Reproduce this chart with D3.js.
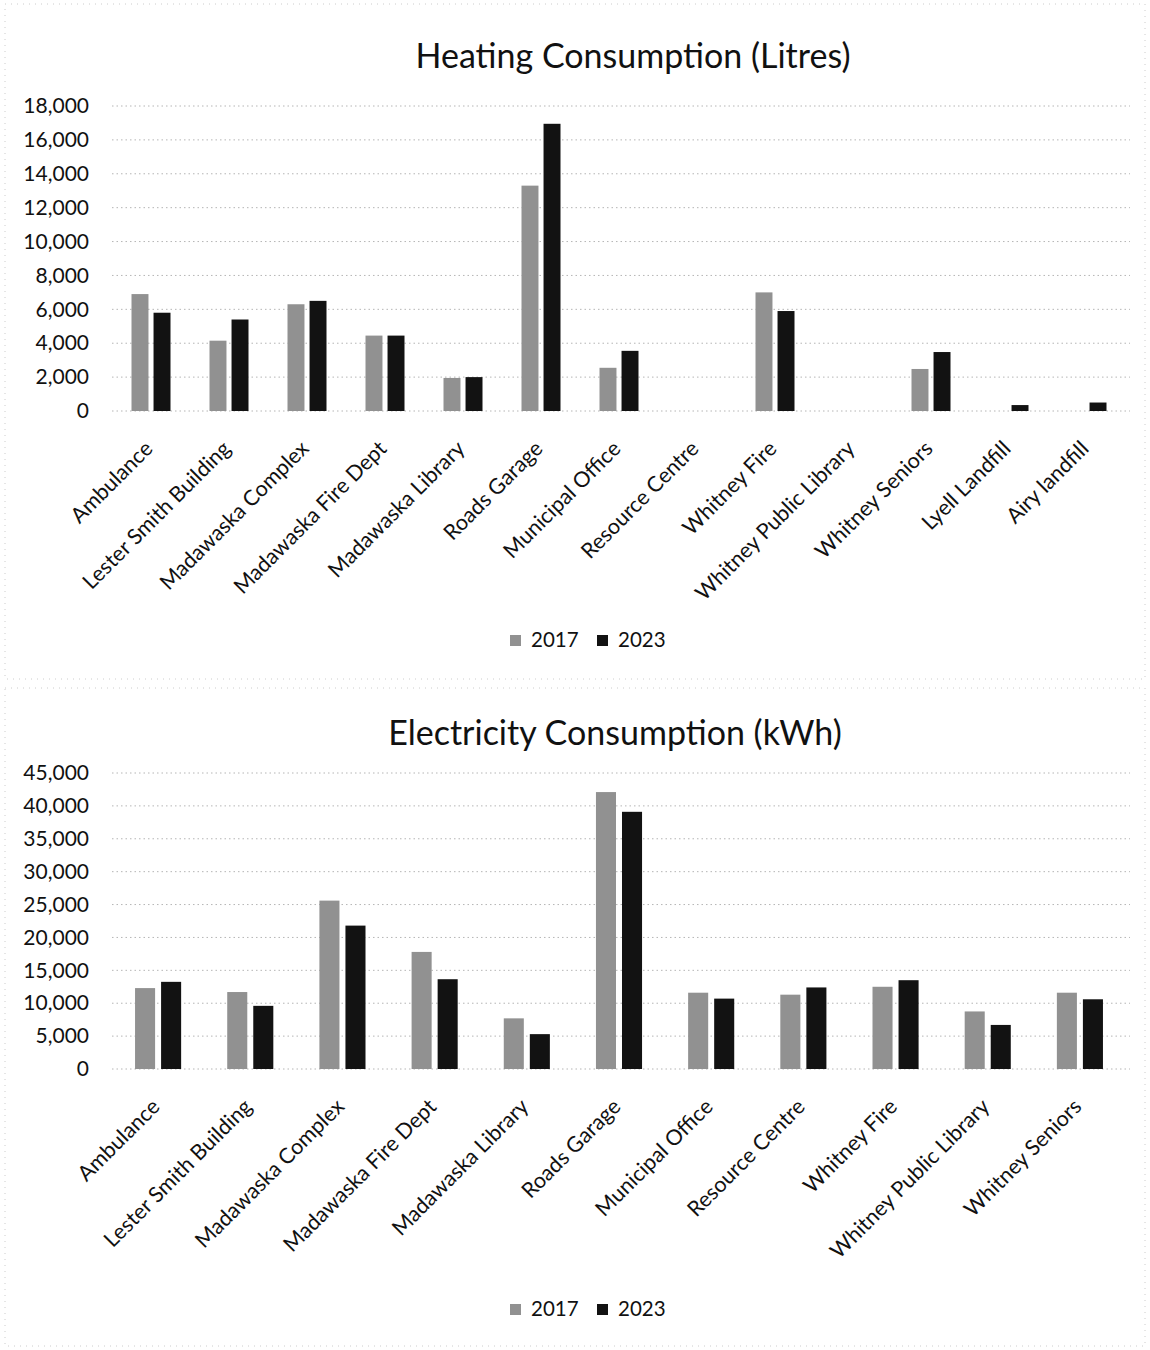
<!DOCTYPE html>
<html>
<head>
<meta charset="utf-8">
<script src="https://cdn.jsdelivr.net/npm/d3@7"></script>
<style>
    body { margin: 0; background: #fff; }
    svg { display: block; font-family: Lato, "Open Sans", sans-serif; }
    .tick text { fill: #111; }
</style>
</head>
<body>
<div id="chart"></div>
<script>
// Heating consumption (litres)
const heatingSites = ["Ambulance", "Lester Smith Building", "Madawaska Complex", "Madawaska Fire Dept",
    "Madawaska Library", "Roads Garage", "Municipal Office", "Resource Centre", "Whitney Fire",
    "Whitney Public Library", "Whitney Seniors", "Lyell Landfill", "Airy landfill"];
const heating2017 = [6900, 4150, 6300, 4450, 1950, 13300, 2550, null, 7000, null, 2480, null, null];
const heating2023 = [5800, 5400, 6500, 4450, 2000, 16950, 3550, null, 5900, null, 3480, 350, 500];
const heatingTicks = [0, 2000, 4000, 6000, 8000, 10000, 12000, 14000, 16000, 18000];

// Electricity consumption (kWh)
const electricSites = ["Ambulance", "Lester Smith Building", "Madawaska Complex", "Madawaska Fire Dept",
    "Madawaska Library", "Roads Garage", "Municipal Office", "Resource Centre", "Whitney Fire",
    "Whitney Public Library", "Whitney Seniors"];
const electric2017 = [12300, 11700, 25600, 17800, 7700, 42100, 11600, 11300, 12500, 8750, 11600];
const electric2023 = [13250, 9600, 21800, 13650, 5300, 39100, 10700, 12400, 13500, 6700, 10600];
const electricTicks = [0, 5000, 10000, 15000, 20000, 25000, 30000, 35000, 40000, 45000];

const years = ["2017", "2023"];
const colors = { "2017": "#919191", "2023": "#121212" };

const svg = d3.select("#chart").append("svg")
    .attr("width", 1150)
    .attr("height", 1350);

// faint frame lines of the two chart boxes (scanned page)
svg.append("rect").attr("x", 5).attr("y", 4).attr("width", 1140).attr("height", 675)
    .attr("fill", "none").attr("stroke", "#ccc").attr("stroke-dasharray", "1,5");
svg.append("rect").attr("x", 5).attr("y", 688).attr("width", 1140).attr("height", 658)
    .attr("fill", "none").attr("stroke", "#ccc").attr("stroke-dasharray", "1,5");

function drawChart(cfg) {
    const g = svg.append("g");
    const rows = cfg.sites.map((name, i) => ({ name, "2017": cfg.s2017[i], "2023": cfg.s2023[i] }));

    const x0 = d3.scaleBand().domain(cfg.sites).range([112, 1126]);
    const step = x0.step();
    const x1 = d3.scaleBand().domain(years).range([step * 0.25, step * 0.75]).paddingInner(0.23);
    const y = d3.scaleLinear().domain([0, d3.max(cfg.ticks)]).range([cfg.base, cfg.top]);

    // title
    g.append("text")
        .attr("x", cfg.titleX).attr("y", cfg.titleY)
        .attr("text-anchor", "middle")
        .attr("font-size", 34)
        .attr("fill", "#111")
        .text(cfg.title);

    // gridlines
    g.append("g").selectAll("line")
        .data(cfg.ticks)
        .join("line")
        .attr("x1", 112).attr("x2", 1130)
        .attr("y1", d => y(d)).attr("y2", d => y(d))
        .attr("stroke", "#b5b5b5")
        .attr("stroke-dasharray", "1.5,3");

    // y axis labels
    const yAxis = g.append("g")
        .attr("transform", "translate(89,0)")
        .call(d3.axisLeft(y).tickValues(cfg.ticks).tickSize(0).tickPadding(0).tickFormat(d3.format(",")));
    yAxis.select(".domain").remove();
    yAxis.selectAll("text").attr("font-size", 21).attr("font-family", "Lato, sans-serif");

    // bars
    g.append("g").selectAll("g")
        .data(rows)
        .join("g")
        .attr("transform", d => `translate(${x0(d.name)},0)`)
        .selectAll("rect")
        .data(d => years.filter(k => d[k] != null).map(k => ({ key: k, value: d[k] })))
        .join("rect")
        .attr("x", d => x1(d.key))
        .attr("width", x1.bandwidth())
        .attr("y", d => y(d.value))
        .attr("height", d => cfg.base - y(d.value))
        .attr("fill", d => colors[d.key]);

    // rotated category labels
    g.append("g").selectAll("text")
        .data(cfg.sites)
        .join("text")
        .attr("transform", d => `translate(${x0(d) + step / 2 + 3},${cfg.base + 39}) rotate(-45)`)
        .attr("text-anchor", "end")
        .attr("font-size", 21.5)
        .attr("fill", "#111")
        .text(d => d);

    // legend
    const legend = g.append("g").attr("transform", `translate(${cfg.legendX},${cfg.legendY})`);
    years.forEach((k, i) => {
        const item = legend.append("g").attr("transform", `translate(${i * 87},0)`);
        item.append("rect")
            .attr("x", 0).attr("y", -12)
            .attr("width", 11).attr("height", 11)
            .attr("fill", colors[k]);
        item.append("text")
            .attr("x", 21).attr("y", 0)
            .attr("font-size", 20.5)
            .attr("fill", "#111")
            .text(k);
    });
}

drawChart({
    title: "Heating Consumption (Litres)",
    titleX: 633, titleY: 68,
    sites: heatingSites, s2017: heating2017, s2023: heating2023,
    ticks: heatingTicks,
    base: 411, top: 106,
    legendX: 510, legendY: 647
});

drawChart({
    title: "Electricity Consumption (kWh)",
    titleX: 615, titleY: 745,
    sites: electricSites, s2017: electric2017, s2023: electric2023,
    ticks: electricTicks,
    base: 1069, top: 773,
    legendX: 510, legendY: 1316
});
</script>
</body>
</html>
